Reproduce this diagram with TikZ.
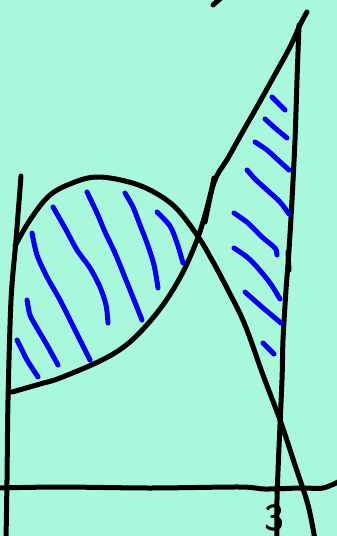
\documentclass[tikz,border=0pt]{standalone}
\usepackage{xcolor}
\definecolor{bgmint}{HTML}{AAF8DC}
\definecolor{hatchblue}{RGB}{0,0,250}
\tikzset{
  ink/.style={draw=black,line width=5pt,line cap=round,line join=round},
  hatch/.style={draw=hatchblue,line width=5pt,line cap=round,line join=round}
}
\begin{document}
\begin{tikzpicture}[x=1pt,y=-1pt]
\fill[bgmint] (0,0) rectangle (337,536);
\useasboundingbox (0,0) rectangle (337,536);
% left vertical line
\draw[ink] plot[smooth] coordinates {(21,176) (16,240) (11,300) (8,400) (7,480) (6,540)};
% bump curve
\draw[ink] plot[smooth,tension=0.6] coordinates {(15,246) (30,220) (50,195) (75,182) (97,177) (125,181) (150,190) (175,207) (197,235) (212,260) (228,290) (245,325) (263,375) (280,420) (295,465) (308,505) (315,540)};
% rising curve
\draw[ink] plot[smooth,tension=0.6] coordinates {(12,392) (40,384) (60,378) (100,361) (125,346) (145,327) (165,302) (183,272) (197,240) (205,215) (215,180) (228,158) (242,133) (258,105) (273,78) (290,47) (300,25) (307,12)};
% double stroke near crossing
\draw[ink] (214,178) -- (205,222);
% right vertical line
\draw[ink] plot[smooth] coordinates {(299,25) (297,80) (295,140) (292,200) (289,250) (286,290) (283,340) (282,380) (279,447) (277,500) (277,540)};
\draw[ink] (288,252) -- (289,270);
% top tick
\draw[ink] (213,5) -- (221,-2);
% x-axis
\draw[ink] plot[smooth] coordinates {(-2,488) (60,487) (150,488) (240,487) (265,489) (300,488) (323,488) (340,481)};
% label
\node[font=\fontsize{36}{36}\selectfont\sffamily\bfseries,anchor=base,inner sep=0pt] (three) at (274,530) {3};
% left hatches
\draw[hatch] plot[smooth] coordinates {(32,233) (37,255) (47,277) (60,300) (75,330) (90,360)};
\draw[hatch] plot[smooth] coordinates {(53,207) (65,228) (77,250) (90,268) (100,287) (106,305) (108,323)};
\draw[hatch] plot[smooth] coordinates {(87,192) (97,213) (105,232) (115,253) (128,285) (142,320)};
\draw[hatch] plot[smooth] coordinates {(125,193) (133,207) (140,225) (147,243) (154,265) (158,288)};
\draw[hatch] plot[smooth] coordinates {(157,212) (170,226) (177,243) (183,263)};
\draw[hatch] plot[smooth] coordinates {(27,300) (30,315) (37,328) (47,345) (58,365)};
\draw[hatch] plot[smooth] coordinates {(17,340) (22,350) (27,360) (38,377)};
% right hatches
\draw[hatch] (272,97) -- (285,110);
\draw[hatch] plot[smooth] coordinates {(265,119) (275,128) (287,138)};
\draw[hatch] plot[smooth] coordinates {(255,142) (267,150) (278,160) (289,170)};
\draw[hatch] plot[smooth] coordinates {(247,170) (256,180) (267,190) (280,202) (289,214)};
\draw[hatch] plot[smooth] coordinates {(234,213) (248,223) (262,237) (275,248) (277,255)};
\draw[hatch] plot[smooth] coordinates {(234,248) (247,257) (257,267) (270,283) (280,299)};
\draw[hatch] plot[smooth] coordinates {(245,292) (262,307) (281,323)};
\draw[hatch] (263,343) -- (274,354);
\end{tikzpicture}
\end{document}
